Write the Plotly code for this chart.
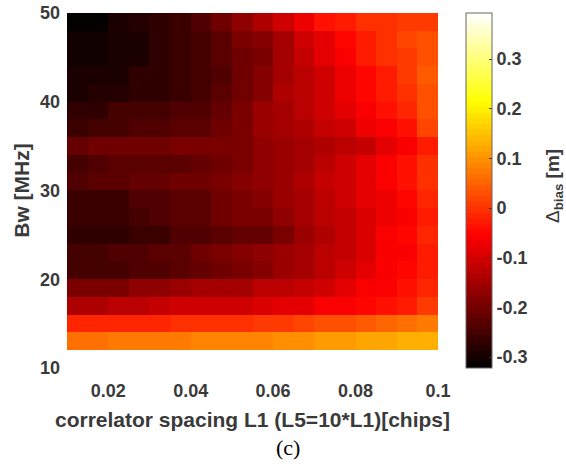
import plotly.graph_objects as go

# correlator spacing L1 [chips]: cell edges
spacing_edges = [0.01, 0.015, 0.02, 0.025, 0.03, 0.035, 0.04, 0.045, 0.05, 0.055,
                 0.06, 0.065, 0.07, 0.075, 0.08, 0.085, 0.09, 0.095, 0.1]
# bandwidth [MHz]: cell edges
bw_edges = [12, 14, 16, 18, 20, 22, 24, 26, 28, 30, 32, 34, 36, 38, 40, 42, 44, 46, 48, 50]

bias_13 = [.061, .064, .075, .077, .079, .080, .082, .085, .088, .090, .093, .100, .103, .109, .114, .124, .132, .136]
bias_15 = [-.018, -.017, -.015, -.012, -.010, -.007, -.005, -.002, .000, .004, .009, .019, .025, .035, .046, .056, .067, .077]
bias_17 = [-.133, -.133, -.122, -.122, -.112, -.107, -.107, -.102, -.102, -.096, -.086, -.081, -.065, -.060, -.044, -.033, -.023, .004]
bias_19 = [-.196, -.196, -.191, -.175, -.175, -.165, -.154, -.154, -.144, -.122, -.122, -.112, -.102, -.086, -.065, -.054, -.038, -.018]
bias_21 = [-.254, -.254, -.254, -.243, -.243, -.222, -.217, -.206, -.196, -.186, -.165, -.154, -.128, -.107, -.086, -.060, -.049, -.023]
bias_23 = [-.254, -.254, -.238, -.233, -.227, -.222, -.206, -.196, -.186, -.170, -.159, -.144, -.128, -.112, -.091, -.060, -.054, -.023]
bias_25 = [-.275, -.270, -.270, -.259, -.259, -.238, -.233, -.222, -.217, -.217, -.191, -.165, -.133, -.117, -.096, -.065, -.044, -.018]
bias_27 = [-.264, -.259, -.259, -.254, -.240, -.222, -.222, -.206, -.196, -.191, -.175, -.149, -.128, -.117, -.096, -.070, -.054, -.023]
bias_29 = [-.264, -.259, -.259, -.243, -.240, -.222, -.222, -.201, -.191, -.186, -.165, -.144, -.122, -.107, -.086, -.070, -.044, -.012]
bias_31 = [-.233, -.230, -.222, -.212, -.212, -.206, -.201, -.191, -.186, -.175, -.159, -.138, -.117, -.102, -.081, -.054, -.033, -.007]
bias_33 = [-.248, -.243, -.227, -.227, -.227, -.225, -.217, -.201, -.191, -.175, -.165, -.144, -.122, -.107, -.086, -.060, -.038, -.002]
bias_35 = [-.212, -.209, -.206, -.204, -.201, -.198, -.196, -.194, -.191, -.170, -.165, -.149, -.133, -.122, -.112, -.086, -.065, -.023]
bias_37 = [-.264, -.248, -.248, -.243, -.243, -.222, -.222, -.206, -.191, -.165, -.144, -.133, -.117, -.102, -.075, -.054, -.033, .014]
bias_39 = [-.270, -.270, -.254, -.254, -.254, -.233, -.233, -.217, -.191, -.165, -.144, -.122, -.107, -.086, -.060, -.033, -.012, .025]
bias_41 = [-.290, -.288, -.288, -.275, -.272, -.257, -.246, -.230, -.204, -.177, -.141, -.122, -.102, -.075, -.051, -.023, -.002, .035]
bias_43 = [-.290, -.290, -.290, -.275, -.275, -.259, -.248, -.233, -.206, -.180, -.144, -.122, -.102, -.075, -.049, -.023, .004, .040]
bias_45 = [-.306, -.306, -.290, -.290, -.275, -.259, -.246, -.227, -.204, -.191, -.149, -.112, -.086, -.054, -.028, -.007, .009, .025]
bias_47 = [-.306, -.306, -.290, -.290, -.275, -.259, -.248, -.227, -.196, -.186, -.144, -.107, -.081, -.044, -.023, -.002, .014, .030]
bias_49 = [-.317, -.312, -.296, -.285, -.275, -.259, -.233, -.206, -.175, -.133, -.107, -.070, -.040, -.023, -.007, -.002, .004, .009]

bias = [bias_13, bias_15, bias_17, bias_19, bias_21, bias_23, bias_25, bias_27, bias_29, bias_31,
        bias_33, bias_35, bias_37, bias_39, bias_41, bias_43, bias_45, bias_47, bias_49]

x_ticks = [0.02, 0.04, 0.06, 0.08, 0.1]
x_labels = ["0.02", "0.04", "0.06", "0.08", "0.1"]
y_ticks = [10, 20, 30, 40, 50]
cbar_ticks = [-0.3, -0.2, -0.1, 0, 0.1, 0.2, 0.3]
cbar_labels = ["-0.3", "-0.2", "-0.1", "0", "0.1", "0.2", "0.3"]


def hot_stepped(m=64):
    n = int(3 * m / 8)
    cols = []
    for i in range(m):
        r = min(1, (i + 0.5) / n)
        g = min(1, max(0, (i + 0.5 - n) / n))
        b = max(0, (i + 0.5 - 2 * n) / (m - 2 * n))
        cols.append(f"rgb({round(r*255)},{round(g*255)},{round(b*255)})")
    scale = []
    for i, c in enumerate(cols):
        scale.append([i / m, c])
        scale.append([(i + 1) / m, c])
    return scale


INK = "#3a3a3a"
tick_font = dict(family="Liberation Sans", size=18, color=INK)
title_font = dict(family="Liberation Sans", size=21, color=INK)
BOLD = "<b>{}</b>"

fig = go.Figure(go.Heatmap(
    x=spacing_edges, y=bw_edges, z=bias,
    colorscale=hot_stepped(), zmin=-0.322, zmax=0.393,
    colorbar=dict(
        x=1.075, xanchor="left", y=0.5, yanchor="middle", len=1, lenmode="fraction",
        thickness=26, thicknessmode="pixels", xpad=0, ypad=0,
        outlinecolor="#666666", outlinewidth=1,
        tickmode="array", tickvals=cbar_ticks,
        ticktext=[BOLD.format(t) for t in cbar_labels],
        ticks="inside", ticklen=3, tickcolor="#333333", tickfont=tick_font,
        ticklabelposition="outside",
    ),
))

fig.update_layout(
    width=566, height=464, autosize=False,
    margin=dict(l=67, r=128, t=13, b=96, pad=0),
    paper_bgcolor="white", plot_bgcolor="white",
    font=dict(family="Liberation Sans", color=INK),
    xaxis=dict(
        range=[0.01, 0.1], tickmode="array", tickvals=x_ticks,
        ticktext=[BOLD.format(t) for t in x_labels],
        showgrid=False, zeroline=False, showline=False, ticks="", tickfont=tick_font,
        ticklabelstandoff=10, automargin=False,
        title=dict(text=BOLD.format("correlator spacing L1 (L5=10*L1)[chips]"),
                   font=title_font, standoff=12),
    ),
    yaxis=dict(
        range=[10, 50], tickmode="array", tickvals=y_ticks,
        ticktext=[BOLD.format(t) for t in y_ticks],
        showgrid=False, zeroline=False, showline=False, ticks="", tickfont=tick_font,
        ticklabelstandoff=6, automargin=False,
        title=dict(text=BOLD.format("Bw [MHz]"), font=title_font, standoff=4),
    ),
    annotations=[
        dict(text="(c)", xref="paper", yref="paper", x=0.596, y=-0.225, xanchor="center", yanchor="middle",
             showarrow=False, font=dict(family="Liberation Serif", size=22, color="black")),
        dict(text="Δ<b><sub>bias</sub> [m]</b>", xref="paper", yref="paper", x=1.313, y=0.513,
             xanchor="center", yanchor="middle", textangle=-90, showarrow=False,
             font=dict(family="Liberation Sans", size=19, color=INK)),
    ],
)

fig.write_html("out.html", post_script="document.body.style.margin='0';",
               config={"displayModeBar": False})
